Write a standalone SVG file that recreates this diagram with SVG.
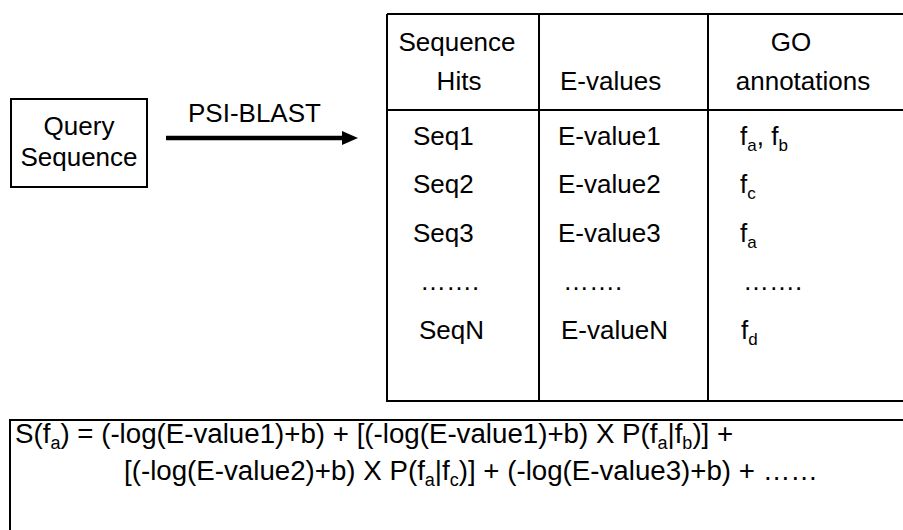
<svg xmlns="http://www.w3.org/2000/svg" width="903" height="530" viewBox="0 0 903 530">
<defs>
<style>
text{font-family:"Liberation Sans",Arial,sans-serif;font-size:26px;fill:#000}
.sub{font-size:17px}
.f{font-size:27.7px}
.f .sub{font-size:18px}
.b{fill:none;stroke:#000;stroke-width:2}
.c{text-anchor:middle}
</style>
</defs>
<rect width="903" height="530" fill="#fff"/>
<g id="query">
<rect class="b" x="11" y="99" width="136" height="88"/>
<text class="c" x="79" y="135">Query</text>
<text class="c" x="79" y="166">Sequence</text>
</g>
<g id="connectors">
<line x1="166" y1="138" x2="345" y2="138" stroke="#000" stroke-width="4.5"/>
<polygon points="342,131 358,138 342,145" fill="#000"/>
<text x="188" y="122">PSI-BLAST</text>
</g>
<g id="table">
<path class="b" d="M387,14 H905 M387,14 V401 H905 M539,14 V401 M708,14 V401 M387,110 H905"/>
<text class="c" x="457" y="51">Sequence</text>
<text class="c" x="459" y="90">Hits</text>
<text x="560" y="90">E-values</text>
<text class="c" x="791" y="51">GO</text>
<text class="c" x="803" y="90">annotations</text>
<text x="413" y="145">Seq1</text>
<text x="413" y="193">Seq2</text>
<text x="413" y="242">Seq3</text>
<text x="420" y="290">…….</text>
<text x="419" y="339">SeqN</text>
<text x="558" y="145">E-value1</text>
<text x="558" y="193">E-value2</text>
<text x="558" y="242">E-value3</text>
<text x="563" y="290">…….</text>
<text x="561" y="339">E-valueN</text>
<text x="740" y="145">f<tspan class="sub" dy="6">a</tspan><tspan dy="-6">, f</tspan><tspan class="sub" dy="6">b</tspan></text>
<text x="740" y="193">f<tspan class="sub" dy="6">c</tspan></text>
<text x="740" y="242">f<tspan class="sub" dy="6">a</tspan></text>
<text x="743" y="290">…….</text>
<text x="741" y="339">f<tspan class="sub" dy="6">d</tspan></text>
</g>
<g id="formula">
<rect class="b" x="10" y="420" width="900" height="120"/>
<text class="f" x="15" y="443">S(f<tspan class="sub" dy="6">a</tspan><tspan dy="-6">) = (-log(E-value1)+b) + [(-log(E-value1)+b) X P(f</tspan><tspan class="sub" dy="6">a</tspan><tspan dy="-6">|f</tspan><tspan class="sub" dy="6">b</tspan><tspan dy="-6">)] +</tspan></text>
<text class="f" x="124" y="480">[(-log(E-value2)+b) X P(f<tspan class="sub" dy="6">a</tspan><tspan dy="-6">|f</tspan><tspan class="sub" dy="6">c</tspan><tspan dy="-6">)] + (-log(E-value3)+b) + ……</tspan></text>
</g>
</svg>
